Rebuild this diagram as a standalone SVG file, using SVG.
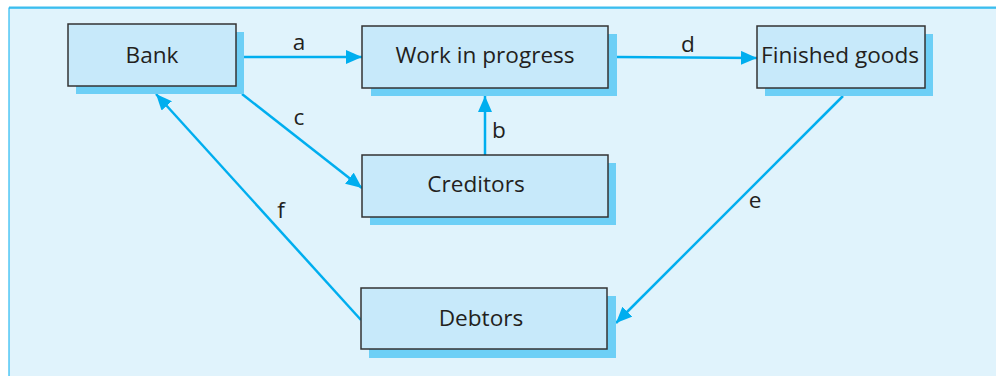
<svg xmlns="http://www.w3.org/2000/svg" width="996" height="376" viewBox="0 0 996 376">
<defs>
<style>
.shadow{fill:#6dcff6;}
.box{fill:#c7e9fa;stroke:#333333;stroke-width:1.5;}
.t{font-family:"Open Sans","Noto Sans",sans-serif;font-size:22.6px;fill:#231f20;}
.lbl{font-family:"Open Sans","Noto Sans",sans-serif;font-size:22.6px;fill:#231f20;text-anchor:middle;}
.c{stroke:#00aeef;stroke-width:2.5;fill:none;marker-end:url(#ah);}
</style>
<marker id="ah" markerUnits="userSpaceOnUse" viewBox="0 0 16 14" markerWidth="16" markerHeight="14" refX="16" refY="7" orient="auto">
<path d="M0,0 L16,7 L0,14 Z" fill="#00aeef"/>
</marker>
</defs>
<rect x="0" y="0" width="996" height="376" fill="#ffffff"/>
<rect x="9" y="8" width="990" height="372" fill="#e0f3fc" stroke="#00aeef" stroke-width="1"/>
<line x1="9" y1="7.5" x2="996" y2="7.5" stroke="#3cbdee" stroke-width="2"/>

<g id="connectors">
<line class="c" x1="244" y1="57" x2="362" y2="57"/>
<line class="c" x1="617" y1="57" x2="757" y2="58"/>
<line class="c" x1="485" y1="155" x2="485" y2="96"/>
<line class="c" x1="242" y1="94" x2="362" y2="188"/>
<line class="c" x1="843" y1="96" x2="616" y2="323"/>
<line class="c" x1="361" y1="320" x2="156" y2="94"/>
<text class="lbl" x="299" y="50">a</text>
<text class="lbl" x="688" y="52">d</text>
<text class="lbl" x="499" y="138">b</text>
<text class="lbl" x="299" y="125">c</text>
<text class="lbl" x="755" y="208">e</text>
<text class="lbl" x="281" y="218">f</text>
</g>

<g id="bank">
<rect class="shadow" x="76" y="32" width="168" height="62"/>
<rect class="box" x="68" y="24" width="168" height="62"/>
<text class="t" x="152" y="63" text-anchor="middle">Bank</text>
</g>
<g id="wip">
<rect class="shadow" x="371" y="34" width="246" height="62"/>
<rect class="box" x="362" y="26" width="246" height="62"/>
<text class="t" x="485" y="63" text-anchor="middle">Work in progress</text>
</g>
<g id="finished">
<rect class="shadow" x="765" y="34" width="168" height="62"/>
<rect class="box" x="757" y="26" width="168" height="62"/>
<text class="t" x="840" y="63" text-anchor="middle">Finished goods</text>
</g>
<g id="creditors">
<rect class="shadow" x="370" y="163" width="246" height="62"/>
<rect class="box" x="362" y="155" width="246" height="62"/>
<text class="t" x="476" y="192" text-anchor="middle">Creditors</text>
</g>
<g id="debtors">
<rect class="shadow" x="369" y="296" width="247" height="62"/>
<rect class="box" x="361" y="288" width="246" height="61"/>
<text class="t" x="481" y="326" text-anchor="middle">Debtors</text>
</g>
</svg>
